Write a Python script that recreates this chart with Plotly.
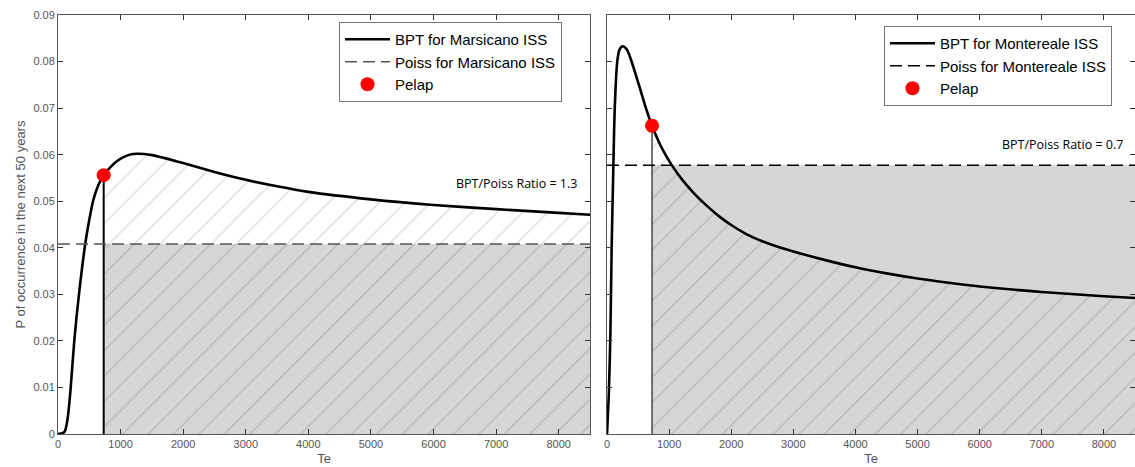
import plotly.graph_objects as go

# ---------------- data ----------------
te_left = [0, 100, 150, 200, 260, 335, 435, 500, 565, 645, 730, 850, 950, 1100, 1250,
           1500, 2000, 2500, 3000, 3500, 4000, 5000, 6000, 7000, 8000, 8500]
bpt_left = [0.0, 0.0004, 0.003, 0.0095, 0.0200, 0.0300, 0.0408, 0.0460, 0.0503, 0.0535,
            0.0556, 0.0575, 0.0587, 0.0598, 0.0602, 0.0599, 0.0582, 0.0563, 0.0546,
            0.0532, 0.0520, 0.0504, 0.0492, 0.0483, 0.0475, 0.0471]
poiss_left = 0.0408
pelap_te_left = 730
pelap_left = 0.0556
ratio_left = "BPT/Poiss Ratio = 1.3"

te_right = [0, 30, 55, 75, 100, 125, 165, 200, 250, 320, 420, 520, 610, 725, 850, 950,
            1040, 1200, 1400, 1600, 1800, 2000, 2250, 2500, 2750, 3000, 3500, 4000,
            4500, 5000, 5500, 6000, 7000, 8000, 8500]
bpt_right = [0.0, 0.009, 0.022, 0.040, 0.056, 0.070, 0.080, 0.0825, 0.0833, 0.0826,
             0.0790, 0.0747, 0.0707, 0.0662, 0.0623, 0.0598, 0.0578, 0.0548, 0.0517,
             0.0491, 0.0468, 0.0449, 0.0429, 0.0414, 0.0402, 0.0392, 0.0374, 0.0358,
             0.0345, 0.0334, 0.0325, 0.0317, 0.0305, 0.0296, 0.0292]
poiss_right = 0.0577
pelap_te_right = 725
pelap_right = 0.0662
ratio_right = "BPT/Poiss Ratio = 0.7"

x_max = 8500
x_ticks = [0, 1000, 2000, 3000, 4000, 5000, 6000, 7000, 8000]
y_ticks = [0, 0.01, 0.02, 0.03, 0.04, 0.05, 0.06, 0.07, 0.08, 0.09]

fig = go.Figure()

panels = [
    (te_left, bpt_left, poiss_left, pelap_te_left, pelap_left, "Marsicano", "x", "y", "legend", "#555555", "black", 2),
    (te_right, bpt_right, poiss_right, pelap_te_right, pelap_right, "Montereale", "x2", "y2", "legend2", "black", "#444444", 1.5),
]

for te, bpt, pois, pte, pval, site, xa, ya, lg, dashcol, vcol, vw in panels:
    # gray rectangle below Poisson level, right of Pelap
    fig.add_trace(go.Scatter(x=[pte, x_max], y=[pois, pois], mode="lines",
                             line=dict(width=0), fill="tozeroy", fillcolor="#d6d6d6",
                             xaxis=xa, yaxis=ya, showlegend=False, hoverinfo="skip"))
    # hatched region under BPT right of Pelap
    hx = [t for t in te if t >= pte]
    hy = [b for t, b in zip(te, bpt) if t >= pte]
    if hx[0] != pte:
        hx = [pte] + hx
        hy = [pval] + hy
    fig.add_trace(go.Scatter(x=hx, y=hy, mode="lines", line=dict(width=0, shape="spline", smoothing=0.8),
                             fill="tozeroy", fillcolor="rgba(0,0,0,0)",
                             fillpattern=dict(shape="/", fgcolor="rgba(0,0,0,0.28)",
                                              bgcolor="rgba(0,0,0,0)", size=18, solidity=0.07),
                             xaxis=xa, yaxis=ya, showlegend=False, hoverinfo="skip"))
    # vertical line at Pelap
    fig.add_trace(go.Scatter(x=[pte, pte], y=[0, pval], mode="lines",
                             line=dict(color=vcol, width=vw), xaxis=xa, yaxis=ya,
                             showlegend=False, hoverinfo="skip"))
    # BPT curve
    fig.add_trace(go.Scatter(x=te, y=bpt, mode="lines", name=f"BPT for {site} ISS",
                             line=dict(color="black", width=2.6, shape="spline", smoothing=0.8),
                             xaxis=xa, yaxis=ya, legend=lg))
    # Poisson line
    fig.add_trace(go.Scatter(x=[0, x_max], y=[pois, pois], mode="lines",
                             name=f"Poiss for {site} ISS",
                             line=dict(color=dashcol, width=1.5, dash="12px,6px"),
                             xaxis=xa, yaxis=ya, legend=lg))
    # Pelap marker
    fig.add_trace(go.Scatter(x=[pte], y=[pval], mode="markers", name="Pelap",
                             marker=dict(color="#ff0000", size=14),
                             xaxis=xa, yaxis=ya, legend=lg))

axis_common = dict(showgrid=False, zeroline=False, showline=True, linecolor="#555555",
                   linewidth=1, mirror="ticks", ticks="inside", ticklen=5,
                   tickcolor="#333333", tickfont=dict(family="Liberation Sans, Arial", size=11, color="#555555"))

W, H = 1135, 467
ml, mr, mt, mb = 58, 0, 15, 33
pw = W - ml - mr
dom_left = [0, (590 - ml) / pw]
dom_right = [(607 - ml) / pw, 1.0]

legend_common = dict(xanchor="right", yanchor="top", bgcolor="white", bordercolor="#777777",
                     borderwidth=1, font=dict(family="Liberation Sans, Arial", size=15, color="black"),
                     tracegroupgap=0, itemwidth=45)

fig.update_layout(
    width=W, height=H,
    margin=dict(l=ml, r=mr, t=mt, b=mb),
    paper_bgcolor="white", plot_bgcolor="white",
    font=dict(family="Liberation Sans, Arial", color="#555555"),
    xaxis=dict(domain=dom_left, range=[0, x_max], tickvals=x_ticks, anchor="y",
               title=dict(text="Te", font=dict(size=13, color="#555555"), standoff=4), **axis_common),
    yaxis=dict(domain=[0, 1], range=[0, 0.09], tickvals=y_ticks, anchor="x",
               title=dict(text="P of occurrence in the next 50 years",
                          font=dict(size=13, color="#555555"), standoff=4), **axis_common),
    xaxis2=dict(domain=dom_right, range=[0, x_max], tickvals=x_ticks, anchor="y2",
                title=dict(text="Te", font=dict(size=13, color="#555555"), standoff=4), **axis_common),
    yaxis2=dict(domain=[0, 1], range=[0, 0.09], tickvals=y_ticks, anchor="x2",
                showticklabels=False, **axis_common),
    legend=dict(x=(562 - ml) / pw, y=(434 - 22) / 419, **legend_common),
    legend2=dict(x=(1112 - ml) / pw, y=(434 - 26) / 419, **legend_common),
    annotations=[
        dict(x=8330, y=0.0539, xref="x", yref="y", text=ratio_left, showarrow=False,
             xanchor="right", yanchor="middle",
             font=dict(family="Open Sans", size=12.5, color="black")),
        dict(x=8345, y=0.0621, xref="x2", yref="y2", text=ratio_right, showarrow=False,
             xanchor="right", yanchor="middle",
             font=dict(family="Open Sans", size=12.5, color="black")),
    ],
)

fig.write_html("out.html")
